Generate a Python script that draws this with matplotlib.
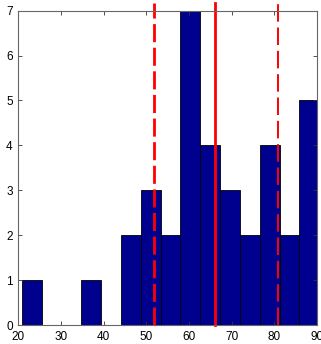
"""Histogram with mean (solid) and +/- spread (dashed) markers, MATLAB-style."""

import matplotlib

matplotlib.use("Agg")
import matplotlib.pyplot as plt
import numpy as np

# bin edges (15 equal bins)
BIN_EDGES = [20.8, 25.45, 30.1, 34.75, 39.4, 44.05, 48.7, 53.35, 58.0,
             62.65, 67.3, 71.95, 76.6, 81.25, 85.9, 90.55]
COUNTS = [1, 0, 0, 1, 0, 2, 3, 2, 7, 4, 3, 2, 4, 2, 5]

MEAN_LINE = 66.1
LOWER_LINE = 51.8
UPPER_LINE = 80.85

XTICKS = [20, 30, 40, 50, 60, 70, 80, 90]
YTICKS = [0, 1, 2, 3, 4, 5, 6, 7]

plt.rcParams["font.family"] = ["Liberation Sans Narrow", "Liberation Sans", "DejaVu Sans"]

fig = plt.figure(figsize=(3.21, 3.44), dpi=100)
ax = fig.add_axes([0.057, 0.055, 0.930, 0.914])

edges = np.array(BIN_EDGES)
ax.bar(edges[:-1], COUNTS, width=np.diff(edges), align="edge",
       color="#00008F", edgecolor="black", linewidth=0.6)

ax.axvline(LOWER_LINE, ymin=0, ymax=1.025, color="red", linestyle=(0, (6.5, 2)),
           linewidth=2.0, clip_on=False)
ax.axvline(UPPER_LINE, ymin=0, ymax=1.025, color="red", linestyle=(0, (9, 3)),
           linewidth=1.4, clip_on=False)
ax.axvline(MEAN_LINE, ymin=0, ymax=1.025, color="red", linestyle="-",
           linewidth=2.0, clip_on=False)

ax.set_xlim(20, 90)
ax.set_ylim(0, 7)
ax.set_xticks(XTICKS)
ax.set_yticks(YTICKS)
ax.tick_params(direction="in", top=True, right=True, length=3, width=0.6,
               labelsize=8.5, colors="#333333", labelcolor="black")
ax.tick_params(axis="x", pad=4)
ax.tick_params(axis="y", pad=4)
for s in ax.spines.values():
    s.set_color("#666666")
    s.set_linewidth(0.8)

fig.savefig("out.png", dpi=100)
